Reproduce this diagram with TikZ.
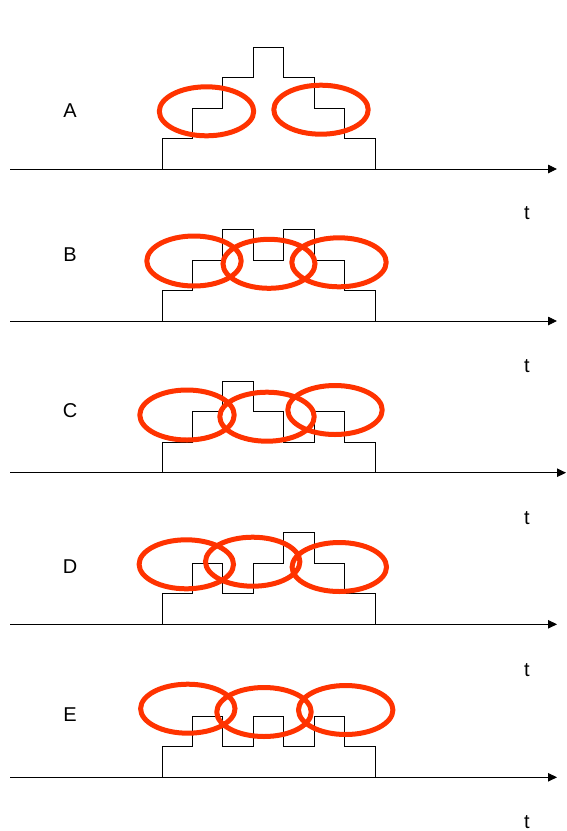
\documentclass[tikz,border=0pt]{standalone}
\usepackage{fontspec}
\setmainfont{Liberation Sans}
\usetikzlibrary{arrows.meta}
\definecolor{ringred}{HTML}{FF3300}
\newcommand{\stairs}[8]{%
  \draw[stair] (162,#1) -- (162,{#1-#2*30.5}) -- (192.4,{#1-#2*30.5}) -- (192.4,{#1-#3*30.5})
   -- (222.8,{#1-#3*30.5}) -- (222.8,{#1-#4*30.5}) -- (253.2,{#1-#4*30.5}) -- (253.2,{#1-#5*30.5})
   -- (283.6,{#1-#5*30.5}) -- (283.6,{#1-#6*30.5}) -- (314,{#1-#6*30.5}) -- (314,{#1-#7*30.5})
   -- (344.4,{#1-#7*30.5}) -- (344.4,{#1-#8*30.5}) -- (375,{#1-#8*30.5}) -- (375,#1);}
\begin{document}
\begin{tikzpicture}[x=1pt,y=-1pt,
  stair/.style={draw=black,line width=0.9pt,line join=miter},
  axis/.style={draw=black,line width=0.9pt,-{Triangle[length=9pt,width=8.5pt]}},
  ring/.style={draw=ringred,line width=5pt},
  lbl/.style={font=\fontsize{20}{23}\selectfont,inner sep=0pt}]
\useasboundingbox (0,0) rectangle (567,831);
% step shapes
\stairs{169}{1}{2}{3}{4}{3}{2}{1}
\stairs{321}{1}{2}{3}{2}{3}{2}{1}
\stairs{472.7}{1}{2}{3}{2}{1}{2}{1}
\stairs{624.3}{1}{2}{1}{2}{3}{2}{1}
\stairs{777.3}{1}{2}{1}{2}{1}{2}{1}
% axes
\coordinate (a0) at (10,169);   \coordinate (a1) at (557,169);
\coordinate (b0) at (10,321);   \coordinate (b1) at (557,321);
\coordinate (c0) at (10,472.7); \coordinate (c1) at (566,472.7);
\coordinate (d0) at (10,624.3); \coordinate (d1) at (557,624.3);
\coordinate (e0) at (10,777.3); \coordinate (e1) at (557,777.3);
\draw[axis] (a0) -- (a1);
\draw[axis] (b0) -- (b1);
\draw[axis] (c0) -- (c1);
\draw[axis] (d0) -- (d1);
\draw[axis] (e0) -- (e1);
% rings
\draw[ring] (206.5,111.3) ellipse [x radius=47.2pt, y radius=24.5pt];
\draw[ring] (321,109.7) ellipse [x radius=47.2pt, y radius=24.5pt];
\draw[ring] (194,261) ellipse [x radius=47.2pt, y radius=25pt];
\draw[ring] (269,263.8) ellipse [x radius=46pt, y radius=24.5pt];
\draw[ring] (339,262.3) ellipse [x radius=47.2pt, y radius=24.5pt];
\draw[ring] (187,415) ellipse [x radius=47.2pt, y radius=25pt];
\draw[ring] (267,416.7) ellipse [x radius=47.2pt, y radius=24.5pt];
\draw[ring] (335,410) ellipse [x radius=47.2pt, y radius=24.5pt];
\draw[ring] (186.3,564.3) ellipse [x radius=47.2pt, y radius=24.5pt];
\draw[ring] (252.7,561.7) ellipse [x radius=47.2pt, y radius=24.5pt];
\draw[ring] (339.3,567) ellipse [x radius=47.2pt, y radius=24.5pt];
\draw[ring] (187.8,708.7) ellipse [x radius=47.2pt, y radius=24.5pt];
\draw[ring] (264,712) ellipse [x radius=47.2pt, y radius=24.5pt];
\draw[ring] (345.7,710) ellipse [x radius=47.2pt, y radius=24.5pt];
% labels
\node[lbl] (lA) at (70,111) {A};
\node[lbl] (lB) at (70,255) {B};
\node[lbl] (lC) at (70,411) {C};
\node[lbl] (lD) at (70,567) {D};
\node[lbl] (lE) at (70,715) {E};
\node[lbl] (tA) at (527,213) {t};
\node[lbl] (tB) at (527,366) {t};
\node[lbl] (tC) at (527,518) {t};
\node[lbl] (tD) at (527,670) {t};
\node[lbl] (tE) at (527,822) {t};
\end{tikzpicture}
\end{document}
